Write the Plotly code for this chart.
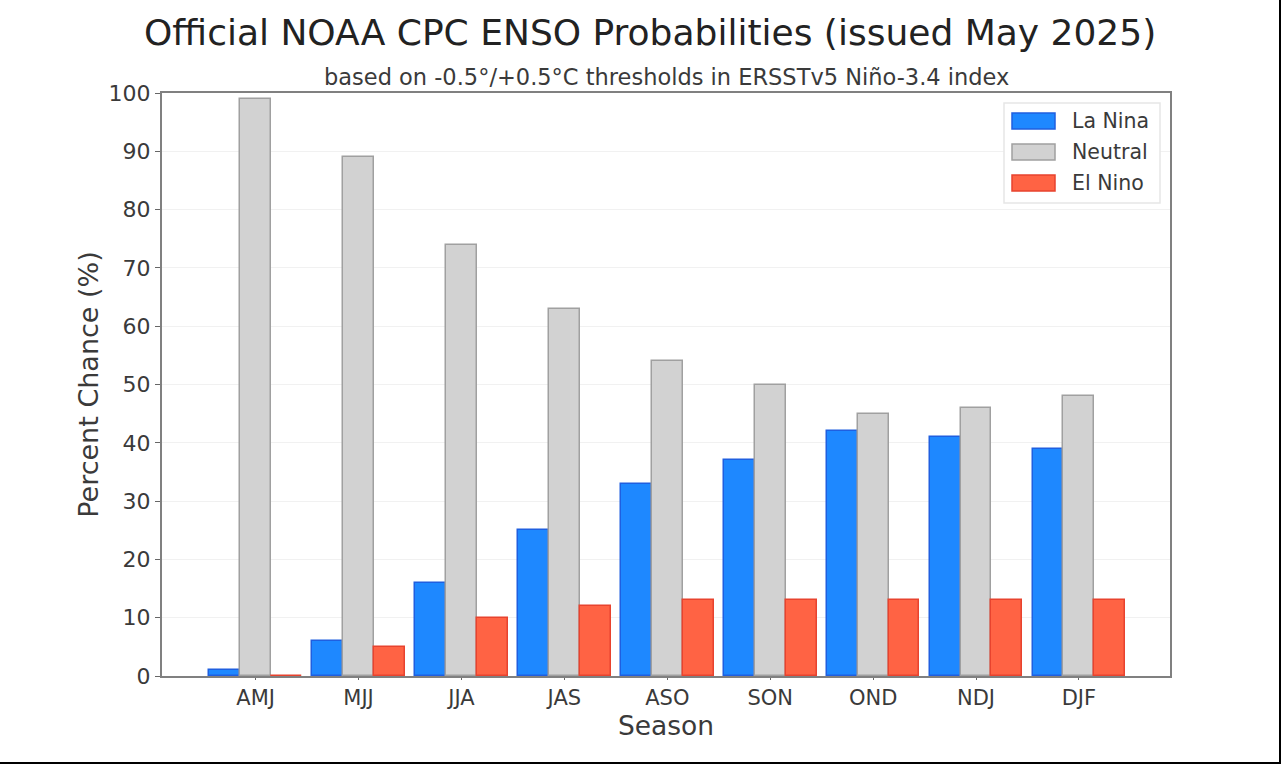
import plotly.graph_objects as go

seasons = ['AMJ', 'MJJ', 'JJA', 'JAS', 'ASO', 'SON', 'OND', 'NDJ', 'DJF']
la_nina = [1, 6, 16, 25, 33, 37, 42, 41, 39]
neutral = [99, 89, 74, 63, 54, 50, 45, 46, 48]
el_nino = [0, 5, 10, 12, 13, 13, 13, 13, 13]
y_ticks = list(range(0, 101, 10))

FONT = 'DejaVu Sans'
TXT = '#3A3A3A'
W, H = 1281, 764
L, R, T, B = 162, 1170, 93, 676


def px_x(v):
    return (v - L) / (R - L)


def px_y(v):
    return (B - v) / (B - T)


series = [('La Nina', la_nina, '#1E88FF', '#1F5FE0', -0.3),
          ('Neutral', neutral, '#D2D2D2', '#A0A0A0', 0.0),
          ('El Nino', el_nino, '#FF6344', '#E8432E', 0.3)]

fig = go.Figure()
for name, vals, col, edge, off in series:
    fig.add_trace(go.Bar(x=[i + off for i in range(len(seasons))], y=vals, name=name,
                         width=0.3, marker=dict(color=col, line=dict(color=edge, width=1.5)),
                         showlegend=False))

# legend box, matplotlib style wide swatches
shapes = [dict(type='rect', xref='paper', yref='paper', x0=px_x(1004), x1=px_x(1160),
               y0=px_y(203), y1=px_y(103), fillcolor='white',
               line=dict(color='#E6E6E6', width=1.5), layer='above')]
annos = []
for k, (name, vals, col, edge, off) in enumerate(series):
    yc = 121 + k * 31
    shapes.append(dict(type='rect', xref='paper', yref='paper', x0=px_x(1012), x1=px_x(1055),
                       y0=px_y(yc + 8), y1=px_y(yc - 8), fillcolor=col,
                       line=dict(color=edge, width=1.5), layer='above'))
    annos.append(dict(text=name, xref='paper', yref='paper', x=px_x(1070), y=px_y(yc),
                      xanchor='left', yanchor='middle', showarrow=False,
                      font=dict(family=FONT, size=20.5, color=TXT)))

# black edge of the screenshot
shapes.append(dict(type='line', xref='paper', yref='paper', x0=px_x(0), x1=px_x(1281),
                   y0=px_y(763), y1=px_y(763), line=dict(color='black', width=2)))
shapes.append(dict(type='line', xref='paper', yref='paper', x0=px_x(1280), x1=px_x(1280),
                   y0=px_y(0), y1=px_y(764), line=dict(color='black', width=2)))

annos.append(dict(text='Official NOAA CPC ENSO Probabilities (issued May 2025)', xref='paper', yref='paper',
                  x=px_x(650), y=px_y(32), xanchor='center', yanchor='middle', showarrow=False,
                  font=dict(family=FONT, size=36, color='#222222')))
annos.append(dict(text='based on -0.5°/+0.5°C thresholds in ERSSTv5 Niño-3.4 index', xref='paper', yref='paper',
                  x=px_x(666), y=px_y(77), xanchor='center', yanchor='middle', showarrow=False,
                  font=dict(family=FONT, size=22.5, color=TXT)))

fig.update_layout(
    width=W, height=H, barmode='overlay', bargap=0,
    margin=dict(l=L, r=W - R, t=T, b=H - B),
    paper_bgcolor='white', plot_bgcolor='white',
    shapes=shapes, annotations=annos,
    font=dict(family=FONT, color=TXT),
)
fig.update_xaxes(range=[-0.91, 8.885], tickvals=list(range(len(seasons))), ticktext=seasons,
                 ticks='outside', ticklen=2, tickcolor='#666666', showgrid=False, zeroline=False,
                 showline=True, mirror=True, linecolor='#808080', linewidth=2,
                 tickfont=dict(family=FONT, size=21, color=TXT),
                 title=dict(text='Season', font=dict(family=FONT, size=26.5, color=TXT), standoff=7))
fig.update_yaxes(range=[0, 100], tickvals=y_ticks, ticks='outside', ticklen=5, tickcolor='#666666',
                 showgrid=True, gridcolor='#F1F1F1', gridwidth=1, zeroline=False,
                 showline=True, mirror=True, linecolor='#808080', linewidth=2,
                 tickfont=dict(family=FONT, size=22, color=TXT),
                 title=dict(text='Percent Chance (%)', font=dict(family=FONT, size=27, color=TXT), standoff=2))

fig.write_html("out.html", post_script="document.body.style.margin='0';",
               config={'displayModeBar': False})
